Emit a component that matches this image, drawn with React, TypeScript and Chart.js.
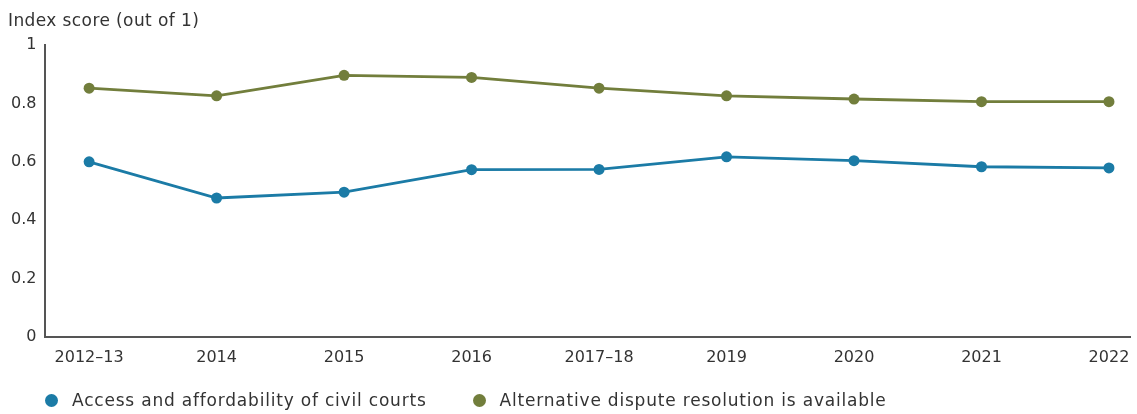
import React, { useEffect, useRef } from "react";
import { Chart, registerables } from "chart.js";

Chart.register(...registerables);

const categories = ["2012–13", "2014", "2015", "2016", "2017–18", "2019", "2020", "2021", "2022"];
const accessCivilCourts = [0.6, 0.476, 0.496, 0.573, 0.574, 0.617, 0.604, 0.583, 0.579];
const alternativeDispute = [0.852, 0.826, 0.896, 0.889, 0.852, 0.826, 0.815, 0.806, 0.806];
const seriesNames = ["Access and affordability of civil courts", "Alternative dispute resolution is available"];
const seriesColors = ["#1b7ba6", "#727e3c"];
const yTicks = [0, 0.2, 0.4, 0.6, 0.8, 1];

const FONT = "DejaVu Sans";
const TEXT = "#333333";

export default function App() {
  const ref = useRef<HTMLCanvasElement | null>(null);

  useEffect(() => {
    if (!ref.current) return;
    const toPoints = (arr: number[]) => arr.map((v, i) => ({ x: i, y: v }));
    const chart = new Chart(ref.current, {
      type: "line",
      data: {
        datasets: [accessCivilCourts, alternativeDispute].map((arr, k) => ({
          label: seriesNames[k],
          data: toPoints(arr),
          borderColor: seriesColors[k],
          backgroundColor: seriesColors[k],
          pointBackgroundColor: seriesColors[k],
          pointBorderColor: seriesColors[k],
          borderWidth: 2.8,
          pointRadius: 5.5,
          pointBorderWidth: 0,
          tension: 0,
        })),
      },
      options: {
        animation: false,
        responsive: false,
        maintainAspectRatio: false,
        layout: { padding: { left: 8, top: 45, right: 7, bottom: 0 } },
        plugins: {
          legend: { display: false },
          title: { display: false },
          tooltip: { enabled: false },
        },
        scales: {
          x: {
            type: "linear",
            min: -0.35,
            max: 8.165,
            afterBuildTicks: (scale: any) => {
              scale.ticks = categories.map((_, i) => ({ value: i }));
            },
            afterFit: (scale: any) => {
              scale.height = 77;
              scale.paddingLeft = 0;
              scale.paddingRight = 0;
            },
            grid: { display: false, drawTicks: false },
            border: { display: true, color: "#555555", width: 2 },
            ticks: {
              padding: 11,
              maxRotation: 0,
              autoSkip: false,
              color: TEXT,
              font: { family: FONT, size: 16 },
              callback: (v: any) => categories[Math.round(Number(v))] ?? "",
            },
          },
          y: {
            min: 0,
            max: 1,
            afterBuildTicks: (scale: any) => {
              scale.ticks = yTicks.map((v) => ({ value: v }));
            },
            afterFit: (scale: any) => {
              scale.width = 36.5;
              scale.paddingTop = 0;
              scale.paddingBottom = 0;
            },
            grid: { display: false, drawTicks: false },
            border: { display: true, color: "#555555", width: 2 },
            ticks: {
              padding: 8,
              color: TEXT,
              font: { family: FONT, size: 16 },
              callback: (v: any) => String(Math.round(Number(v) * 10) / 10),
            },
          },
        },
      },
    });
    return () => chart.destroy();
  }, []);

  return (
    <div style={{ position: "fixed", left: 0, top: 0, width: 1137, height: 414, background: "#fff", fontFamily: FONT, color: TEXT }}>
      <canvas ref={ref} width={1137} height={414} style={{ position: "absolute", left: 0, top: 0, width: 1137, height: 414 }} />
      <div style={{ position: "absolute", left: 8, top: 8, fontSize: 17, letterSpacing: "0.4px", lineHeight: "24px", whiteSpace: "nowrap" }}>
        Index score (out of 1)
      </div>
      <div style={{ position: "absolute", left: 45, top: 389, display: "flex", alignItems: "center", fontSize: 17, letterSpacing: "0.8px", lineHeight: "22px", whiteSpace: "nowrap" }}>
        {seriesNames.map((name, k) => (
          <div key={name} style={{ display: "flex", alignItems: "center", marginRight: k === 0 ? 46 : 0 }}>
            <span style={{ display: "inline-block", width: 13, height: 13, borderRadius: "50%", background: seriesColors[k], marginRight: 14 }} />
            <span>{name}</span>
          </div>
        ))}
      </div>
    </div>
  );
}
